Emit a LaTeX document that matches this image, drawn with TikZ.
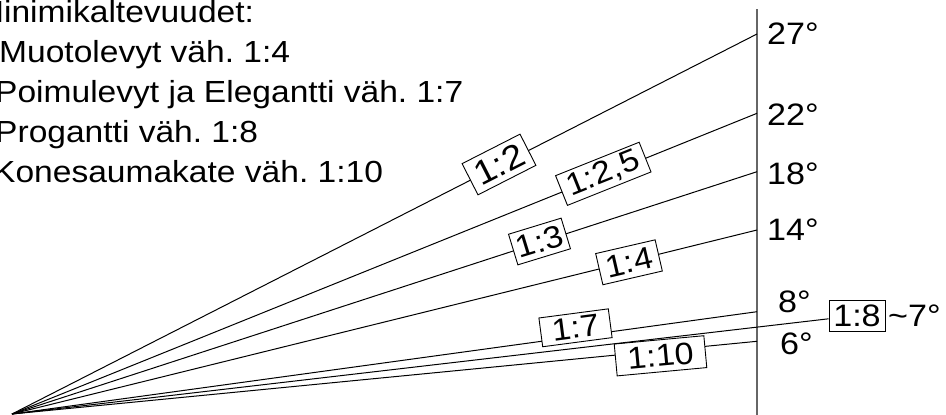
\documentclass[tikz,border=0pt]{standalone}
\usepackage{fontspec}
\setmainfont{Liberation Sans}
\newfontfamily\widefont{Liberation Sans}[FakeStretch=1.1]
\frenchspacing

\begin{document}
\begin{tikzpicture}[x=1pt,y=-1pt,
        ray/.style={line width=1pt},
        ratio box/.style={draw,fill=white,line width=0.9pt,inner sep=0pt,
          minimum height=32pt,font=\widefont\fontsize{31}{37}\selectfont},
        deg/.style={anchor=base west,inner sep=0pt,font=\widefont\fontsize{31}{37}\selectfont},
        note/.style={anchor=base west,inner sep=0pt,font=\widefont\fontsize{30.5}{36}\selectfont}]
        \useasboundingbox (0,0) rectangle (946,415);

        % heading and roof types
        \node[note] (t0) at (-24,23) {Minimikaltevuudet:};
        \node[note] (t1) at (-1,62.8) {Muotolevyt väh. 1:4};
        \node[note] (t2) at (-5,102.6) {Poimulevyt ja Elegantti väh. 1:7};
        \node[note] (t3) at (-5,142.4) {Progantti väh. 1:8};
        \node[note] (t4) at (-7,182.2) {Konesaumakate väh. 1:10};

        % apex and scale line
        \coordinate (o) at (12,414);
        \coordinate (top) at (757,9);
        \coordinate (bot) at (757,415);
        \draw[black!60,line width=1.3pt] (top) -- (bot);

        \coordinate (e27) at (757,34);
        \coordinate (e22) at (757,113.3);
        \coordinate (e18) at (757,171.7);
        \coordinate (e14) at (757,230);
        \coordinate (e8) at (757,311.7);
        \coordinate (e6) at (757,341.3);

        \node[deg] (d27) at (767,45) {27°};
        \node[deg] (d22) at (767,125) {22°};
        \node[deg] (d18) at (767,184) {18°};
        \node[deg] (d14) at (767,240) {14°};
        \node[deg] (d8) at (778,312) {8°};
        \node[deg] (d6) at (780,354) {6°};

        % rays
        \path[ray]
        (o) edge (e27)
        (o) edge (e22)
        (o) edge (e18)
        (o) edge (e14)
        (o) edge (e8)
        (o) edge (e6)
        ;

        % ratio boxes
        \node[ratio box,minimum width=65pt,minimum height=35pt,rotate=27,
          font=\widefont\fontsize{34}{40}\selectfont] (r2) at (499,164.5) {1:2};
        \node[ratio box,minimum width=90pt,rotate=21.8] (r25) at (603.3,173.8) {1:2,5};
        \node[ratio box,minimum width=55pt,rotate=17] (r3) at (539.5,241.5) {1:3};
        \node[ratio box,minimum width=61pt,rotate=13] (r4) at (629,262.3) {1:4};
        \node[ratio box,minimum width=70pt,minimum height=29pt,rotate=7.5] (r7) at (575.5,327.8) {1:7};
        \node[ratio box,minimum width=90pt,rotate=5.3] (r10) at (660.5,355.8) {1:10};
        \node[ratio box,minimum width=56pt,minimum height=31pt] (r8) at (857,315.5) {1:8};
        \path[ray] (o) edge (r8);
        \node[deg] (d7) at (888,326) {\textasciitilde7°};
\end{tikzpicture}
\end{document}
